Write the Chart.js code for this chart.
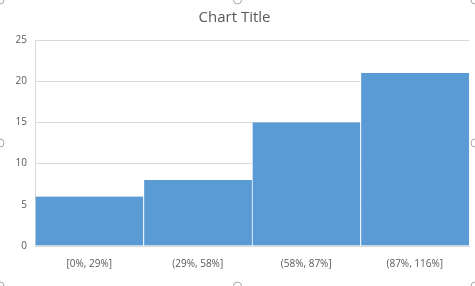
<!DOCTYPE html>
<html>
<head>
<meta charset="utf-8">
<script src="https://cdn.jsdelivr.net/npm/chart.js@4/dist/chart.umd.min.js"></script>
<style>
  html, body { margin: 0; padding: 0; background: #fff; }
  #wrap { width: 475px; height: 286px; position: relative; }
</style>
</head>
<body>
<div id="wrap"><canvas id="chart"></canvas></div>
<script>
// histogram bins and counts
const bins = ['[0%, 29%]', '(29%, 58%]', '(58%, 87%]', '(87%, 116%]'];
const counts = [6, 8, 15, 21];
const yTicks = [0, 5, 10, 15, 20, 25];

const barColor = '#5b9bd5';
const textColor = '#595959';
const gridColor = '#d9d9d9';

// little selection handles round the chart frame, like the excel screenshot
const handles = {
  id: 'handles',
  afterDraw(chart) {
    const ctx = chart.ctx;
    const w = chart.width, h = chart.height;
    const pts = [[0, 0], [w / 2, 0], [w, 0], [0, h / 2], [w, h / 2], [0, h], [w / 2, h], [w, h]];
    ctx.save();
    ctx.strokeStyle = '#a6a6a6';
    ctx.fillStyle = '#fff';
    ctx.lineWidth = 1;
    pts.forEach(p => {
      ctx.beginPath();
      ctx.arc(p[0], p[1], 4, 0, Math.PI * 2);
      ctx.fill();
      ctx.stroke();
    });
    ctx.restore();
  }
};

new Chart(document.getElementById('chart'), {
  type: 'bar',
  data: {
    labels: bins,
    datasets: [{
      data: counts,
      backgroundColor: barColor,
      borderColor: ['rgba(0,0,0,0)', '#fff', '#fff', '#fff'],
      borderWidth: { left: 1, right: 0, top: 0, bottom: 0 },
      borderSkipped: false,
      barPercentage: 1,
      categoryPercentage: 1
    }]
  },
  options: {
    responsive: true,
    maintainAspectRatio: false,
    animation: false,
    layout: { padding: { left: 0, right: 6, top: 0, bottom: 0 } },
    plugins: {
      legend: { display: false },
      tooltip: { enabled: false },
      title: {
        display: true,
        text: 'Chart Title',
        color: textColor,
        font: { family: 'Open Sans', size: 15, weight: 'normal' },
        padding: { top: 9, bottom: 13 }
      }
    },
    scales: {
      x: {
        grid: { display: false, drawTicks: false },
        border: { color: gridColor },
        ticks: {
          color: textColor,
          font: { family: 'Open Sans', size: 10 },
          padding: 12,
          maxRotation: 0
        },
        afterFit(axis) { axis.height = 40; }
      },
      y: {
        min: 0,
        max: 25,
        afterBuildTicks(axis) { axis.ticks = yTicks.map(v => ({ value: v })); },
        grid: { color: gridColor, drawTicks: false },
        border: { color: gridColor },
        ticks: {
          color: textColor,
          font: { family: 'Open Sans', size: 10 },
          padding: 8
        },
        afterFit(axis) { axis.width = 35; }
      }
    }
  },
  plugins: [handles]
});
</script>
</body>
</html>
